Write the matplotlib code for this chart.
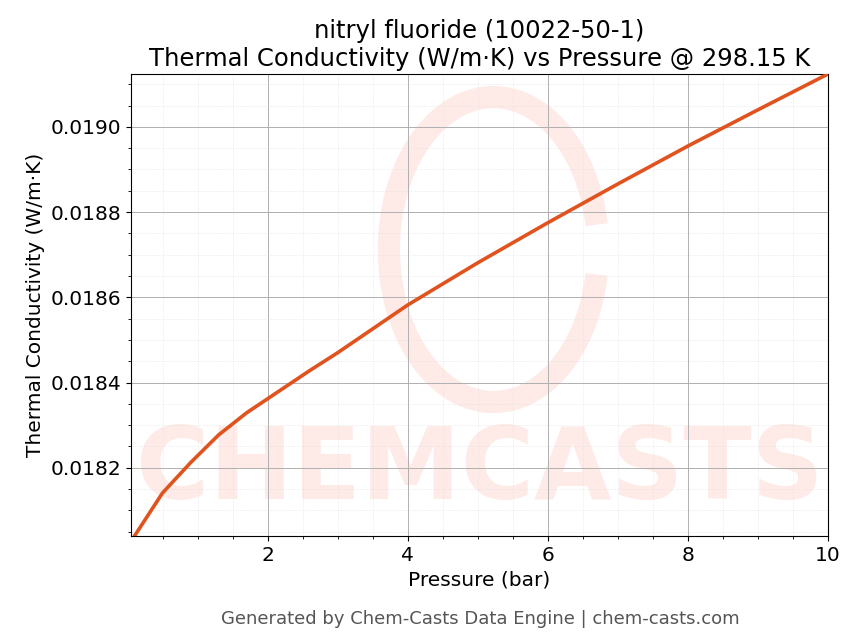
import matplotlib
matplotlib.use("Agg")
import matplotlib.pyplot as plt
from matplotlib.ticker import AutoMinorLocator
from matplotlib.patches import Arc

pressure = [0.1, 0.5, 0.9, 1.3, 1.7, 2.0, 2.6, 3.0, 4.0, 5.0, 6.0, 7.0, 8.0, 9.0, 10.0]
conductivity = [0.018040, 0.018141, 0.018212, 0.018277, 0.018329, 0.018362, 0.018428,
                0.018470, 0.018582, 0.018681, 0.018775, 0.018866, 0.018955, 0.019040, 0.019124]

fig = plt.figure(figsize=(8.56, 6.44), dpi=100)
ax = fig.add_axes([131/856, 1-536/644, (828-131)/856, (536-74)/644])

# watermark
ax.text(0.5, 0.14, "CHEMCASTS", transform=ax.transAxes, ha="center", va="center",
        fontsize=72, fontweight="bold", color="#feeae7", zorder=0, clip_on=True)
ax.add_patch(Arc((0.52, 0.62), 0.30, 0.66, transform=ax.transAxes, theta1=20, theta2=340,
                 lw=16, color="#feeae7", zorder=0))

ax.plot(pressure, conductivity, color="#e0531f", lw=2.6, zorder=3)
ax.set_xlim(0.05, 10)
ax.set_ylim(0.018040, 0.019124)
ax.set_xticks([2, 4, 6, 8, 10])
ax.set_yticks([0.0182, 0.0184, 0.0186, 0.0188, 0.0190])
ax.xaxis.set_minor_locator(AutoMinorLocator(4))
ax.yaxis.set_minor_locator(AutoMinorLocator(4))
ax.grid(which="major", color="#b0b0b0", lw=0.7)
ax.grid(which="minor", color="#e0e0e0", lw=0.5, ls=":")
ax.tick_params(labelsize=14.5)
ax.set_xlabel("Pressure (bar)", fontsize=14.5)
ax.set_ylabel("Thermal Conductivity (W/m·K)", fontsize=14.5)
ax.set_title("nitryl fluoride (10022-50-1)\nThermal Conductivity (W/m·K) vs Pressure @ 298.15 K", fontsize=17.5)
fig.text(480/856, 1-619/644, "Generated by Chem-Casts Data Engine | chem-casts.com",
         ha="center", va="center", fontsize=13, color="#555555")
fig.savefig("out.png", dpi=100)
